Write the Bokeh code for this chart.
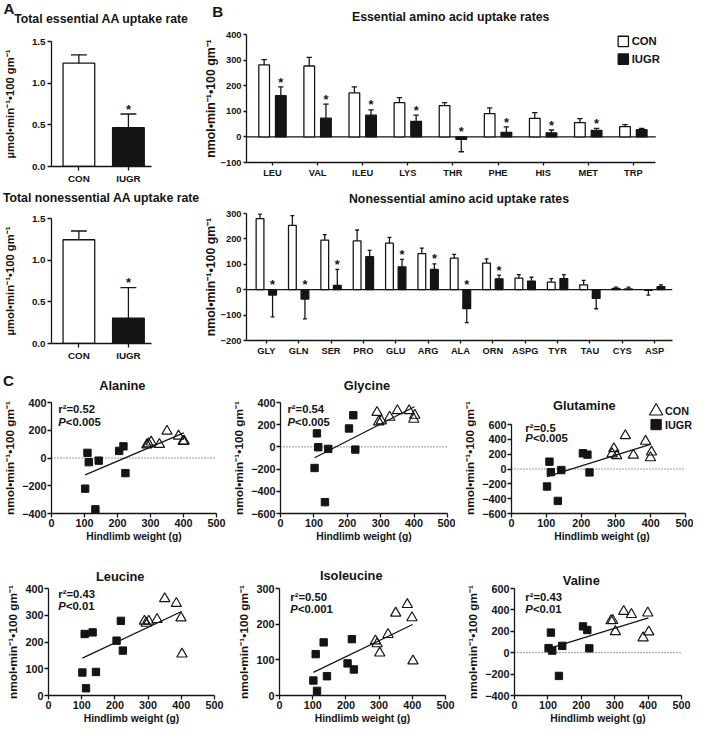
from bokeh.plotting import figure
from bokeh.models import Range1d, Label, FixedTicker, NumeralTickFormatter
from bokeh.layouts import row, column
from bokeh.embed import file_html
from bokeh.resources import INLINE
from bokeh.core.properties import value

# ---------------- data ----------------
groups = ["CON", "IUGR"]
ess_total = [1.24, 0.465]
ess_total_sem = [0.10, 0.165]
ness_total = [1.245, 0.305]
ness_total_sem = [0.105, 0.365]
total_sig = [0, 1]

ess_aa = ["LEU", "VAL", "ILEU", "LYS", "THR", "PHE", "HIS", "MET", "TRP"]
ess_con = [281, 277, 172, 134, 122, 91, 72, 56, 40]
ess_con_sem = [21, 34, 23, 19, 12, 22, 23, 15, 8]
ess_iugr = [161, 73, 85, 61, -10, 18, 16, 25, 28]
ess_iugr_sem = [34, 55, 21, 24, 48, 21, 11, 8, 5]
ess_sig = [1, 1, 1, 1, 1, 1, 1, 1, 0]

ness_aa = ["GLY", "GLN", "SER", "PRO", "GLU", "ARG", "ALA", "ORN", "ASPG", "TYR", "TAU", "CYS", "ASP"]
ness_con = [280, 253, 195, 192, 183, 142, 124, 105, 46, 30, 19, 5, -3]
ness_con_sem = [18, 39, 22, 43, 23, 22, 15, 16, 13, 14, 18, 5, 18]
ness_iugr = [-21, -37, 17, 130, 90, 80, -74, 43, 34, 44, -34, 3, 12]
ness_iugr_sem = [86, 78, 63, 25, 29, 22, 56, 14, 15, 15, 41, 7, 7]
ness_sig = [1, 1, 1, 0, 1, 1, 1, 1, 0, 0, 0, 0, 0]

iugr_wt = [102, 109, 113, 133, 143, 205, 218, 224]
con_wt = [289, 294, 302, 327, 350, 385, 399, 402]
fit_wt = [102, 401]

ala_iugr = [-221, 37, -30, -370, -19, 51, 84, -109]
ala_con = [95, 102, 115, 98, 193, 158, 120, 122]
ala_fit = [-121, 181]
gly_iugr = [-190, 122, -3, -498, -18, 166, 285, -24]
gly_con = [311, 226, 235, 267, 326, 326, 249, 285]
gly_fit = [-98, 362]
gln_iugr = [-236, 99, -42, -430, -14, 212, 194, -46]
gln_con = [205, 275, 180, 450, 187, 374, 152, 229]
gln_fit = [-102, 335]
leu_iugr = [86, 230, 27, 236, 88, 205, 279, 168]
leu_con = [278, 270, 278, 284, 362, 344, 290, 155]
leu_fit = [140, 314]
ile_iugr = [42, 116, 13, 149, 54, 90, 158, 73]
ile_con = [153, 145, 119, 171, 231, 255, 218, 97]
ile_fit = [65, 199]
val_iugr = [43, 188, 20, -217, 64, 246, 212, 41]
val_con = [299, 301, 197, 386, 357, 139, 371, 194]
val_fit = [38, 325]

c_titles = ["Alanine", "Glycine", "Glutamine", "Leucine", "Isoleucine", "Valine"]
c_r2 = ["0.52", "0.54", "0.5", "0.43", "0.50", "0.43"]
c_p = ["<0.005", "<0.005", "<0.005", "<0.01", "<0.001", "<0.01"]

# ---------------- style helpers ----------------
K = 0.982
FONT = "Liberation Sans"
INK = "#141414"
LW = 1.3 * K
NMOL = "nmol\u2022min\u207b\u00b9\u2022100 gm\u207b\u00b9"
UMOL = "\u00b5mol\u2022min\u207b\u00b9\u2022100 gm\u207b\u00b9"


def fs(v):
    return f"{v * K:.1f}px"


def make_fig(canvas, frame, xr, yr):
    cx0, cy0, cx1, cy1 = canvas
    fx0, fy0, fx1, fy1 = frame
    p = figure(width=round((cx1 - cx0) * K), height=round((cy1 - cy0) * K),
               x_range=Range1d(*xr), y_range=Range1d(*yr),
               min_border_left=round((fx0 - cx0) * K), min_border_right=round((cx1 - fx1) * K),
               min_border_top=round((fy0 - cy0) * K), min_border_bottom=round((cy1 - fy1) * K),
               output_backend="svg", toolbar_location=None, title=None,
               background_fill_color="white", border_fill_color="white")

    def conv(px, py):
        x = xr[0] + (px - fx0) / (fx1 - fx0) * (xr[1] - xr[0])
        y = yr[1] - (py - fy0) / (fy1 - fy0) * (yr[1] - yr[0])
        return x, y
    return p, conv


def style(p, tick_fs, lab_fs, tick_out=4, standoff=2):
    for ax in list(p.xaxis) + list(p.yaxis):
        ax.axis_line_width = LW
        ax.axis_line_color = INK
        ax.major_tick_line_width = LW
        ax.major_tick_line_color = INK
        ax.major_tick_out = tick_out
        ax.major_tick_in = 0
        ax.minor_tick_out = 0
        ax.minor_tick_in = 0
        ax.major_label_text_font = FONT
        ax.major_label_text_font_style = "bold"
        ax.major_label_text_font_size = fs(tick_fs)
        ax.major_label_text_color = INK
        ax.major_label_standoff = standoff
        ax.axis_label_text_font = FONT
        ax.axis_label_text_font_style = "bold"
        ax.axis_label_text_font_size = fs(lab_fs)
        ax.axis_label_text_color = INK
    p.xgrid.visible = False
    p.ygrid.visible = False
    p.outline_line_color = None


def put(p, conv, px, py, text, size, fstyle="bold", align="left", side=None):
    x, y = conv(px, py)
    lab = Label(x=x, y=y, text=text, text_font=FONT, text_font_style=fstyle,
                text_font_size=fs(size), text_color=INK, text_align=align,
                text_baseline="middle")
    if side:
        p.add_layout(lab, side)
    else:
        p.add_layout(lab)


def bars(p, xs, means, sems, width, fill):
    tips = [m + s if m >= 0 else m - s for m, s in zip(means, sems)]
    r = p.vbar(x=xs, top=means, width=width, fill_color=fill, line_color=INK, line_width=LW)
    p.segment(x0=xs, y0=means, x1=xs, y1=tips, line_color=INK, line_width=LW)
    cw = width / 2
    p.segment(x0=[x - cw / 2 for x in xs], y0=tips, x1=[x + cw / 2 for x in xs], y1=tips,
              line_color=INK, line_width=LW)
    return r, tips


def stars(p, xs, tips, sig):
    sx = [x for x, s in zip(xs, sig) if s]
    sy = [max(t, 0) for t, s in zip(tips, sig) if s]
    p.text(x=sx, y=sy, text=["*"] * len(sx), text_font=value(FONT), text_font_style="bold",
           text_font_size=fs(13), text_color=INK, text_align="center",
           text_baseline="alphabetic", y_offset=-5 * K)


Y0 = 1

# ---------------- Panel A ----------------
def total_panel(canvas, frame, vals, sems, title, title_py, letter):
    p, conv = make_fig(canvas, frame, (-0.553, 1.466), (0, 1.5))
    xs = [0, 1]
    bars(p, [xs[0]], [vals[0]], [sems[0]], 0.64, "white")
    _, tips = bars(p, [xs[1]], [vals[1]], [sems[1]], 0.64, INK)
    stars(p, [xs[1]], tips, [total_sig[1]])
    p.xaxis.ticker = FixedTicker(ticks=xs)
    p.xaxis.major_label_overrides = {0: groups[0], 1: groups[1]}
    p.yaxis.ticker = FixedTicker(ticks=[0, 0.5, 1.0, 1.5])
    p.yaxis.formatter = NumeralTickFormatter(format="0.0")
    p.yaxis.axis_label = UMOL
    style(p, 10, 11.5, tick_out=4, standoff=2)
    p.yaxis.axis_label_standoff = 13
    put(p, conv, 105, title_py, title, 12.5, align="center", side="above")
    if letter:
        put(p, conv, 3, 8.5, letter, 15.5, side="above")
    return p


pA1 = total_panel((3, Y0, 207, 190), (53, 43, 157, 172), ess_total, ess_total_sem,
                  "Total essential AA uptake rate", 19.5, "A")
pA2 = total_panel((3, 190, 207, 370), (53, 223, 157, 351), ness_total, ness_total_sem,
                  "Total nonessential AA uptake rate", 201.5, None)


# ---------------- Panel B ----------------
def aa_panel(canvas, frame, xr, xend, names, con, con_sem, iu, iu_sem, sig, off, width,
             yr, yticks, title, title_py, letter, legend):
    p, conv = make_fig(canvas, frame, xr, yr)
    n = len(names)
    xc = [i - off for i in range(n)]
    xi = [i + off for i in range(n)]
    p.segment(x0=[xr[0]], y0=[0], x1=[xend], y1=[0], line_color=INK, line_width=LW)
    bars(p, xc, con, con_sem, width, "white")
    _, tips = bars(p, xi, iu, iu_sem, width, INK)
    stars(p, xi, tips, sig)
    p.xaxis.ticker = FixedTicker(ticks=list(range(n)))
    p.xaxis.major_label_overrides = {i: nm for i, nm in enumerate(names)}
    p.xaxis.bounds = (xr[0], xend)
    p.yaxis.ticker = FixedTicker(ticks=yticks)
    p.yaxis.axis_label = NMOL
    style(p, 9.5, 12.5, tick_out=3, standoff=2)
    p.yaxis.axis_label_standoff = 0
    put(p, conv, 467, title_py, title, 12.5, align="center", side="above")
    if letter:
        put(p, conv, 210, 12.5, letter, 15.5, side="above")
    if legend:
        for (py, fill, name) in [(43, "white", groups[0]), (61, INK, groups[1])]:
            gx, gy = conv(653, py)
            p.scatter([gx], [gy], marker="square", size=10.5 * K, fill_color=fill,
                      line_color=INK, line_width=LW)
            put(p, conv, 662, py, name, 11.5)
    return p


# B-top: frame extended to the right (legend room); axis line bounded at category end
pB1 = aa_panel((207, Y0, 708, 190), (247, 36, 706, 166), (-0.576, 8.868), 8.498, ess_aa,
               ess_con, ess_con_sem, ess_iugr, ess_iugr_sem, ess_sig, 0.185, 0.237,
               (-100, 400), [-100, 0, 100, 200, 300, 400],
               "Essential amino acid uptake rates", 18.5, "B", True)
pB2 = aa_panel((207, 190, 708, 370), (247, 217, 688, 347), (-0.612, 12.552), 12.552, ness_aa,
               ness_con, ness_con_sem, ness_iugr, ness_iugr_sem, ness_sig, 0.194, 0.24,
               (-200, 300), [-200, -100, 0, 100, 200, 300],
               "Nonessential amino acid uptake rates", 202, None, False)


# ---------------- Panel C ----------------
def scatter_panel(canvas, frame, xr, yr, yticks, iu_y, con_y, fit_y, k, title_pos, stat_pos,
                  zero, letter=None, legend=False):
    p, conv = make_fig(canvas, frame, xr, yr)
    if zero:
        p.segment(x0=[0], y0=[0], x1=[500], y1=[0], line_color="#333333",
                  line_width=1.0 * K, line_dash="1 2")
    p.line(fit_wt, fit_y, line_color=INK, line_width=1.3 * K)
    p.scatter(iugr_wt, iu_y, marker="square", size=7.5 * K, fill_color=INK, line_color=INK)
    p.scatter(con_wt, con_y, marker="triangle", size=10.5 * K, fill_color=None,
              line_color=INK, line_width=1.2 * K)
    p.xaxis.ticker = FixedTicker(ticks=[0, 100, 200, 300, 400, 500])
    p.yaxis.ticker = FixedTicker(ticks=yticks)
    p.yaxis.bounds = (yticks[0], yticks[-1])
    p.xaxis.bounds = (0, 500)
    p.xaxis.axis_label = "Hindlimb weight (g)"
    p.yaxis.axis_label = NMOL
    style(p, 11, 10.5, tick_out=4, standoff=1)
    p.yaxis.axis_label_text_font_size = fs(12)
    p.xaxis.axis_label_standoff = 1
    p.yaxis.axis_label_standoff = 2
    put(p, conv, title_pos[0], title_pos[1], c_titles[k], 13, align="center", side="above")
    sx, sy = stat_pos
    put(p, conv, sx, sy, "r\u00b2=" + c_r2[k], 11.5)
    put(p, conv, sx, sy + 12.5, "P", 11.5, fstyle="bold italic")
    put(p, conv, sx + 7.8, sy + 12.5, c_p[k], 11.5)
    if letter:
        put(p, conv, 3, 388, letter, 15.5, side="above")
    if legend:
        lx1, ly1 = conv(670, 400)
        lx2, ly2 = conv(670, 417)
        p.scatter([lx1], [ly1], marker="triangle", size=13.5 * K, fill_color=None,
                  line_color=INK, line_width=1.2 * K)
        p.scatter([lx2], [ly2], marker="square", size=10.5 * K, fill_color=INK, line_color=INK)
        put(p, conv, 679, 400, groups[0], 11)
        put(p, conv, 679, 417, groups[1], 11)
    return p


pC1 = scatter_panel((3, 370, 236, 566), (53, 410, 223, 523), (0, 500), (-400, 400),
                    [-400, -200, 0, 200, 400], ala_iugr, ala_con, ala_fit, 0,
                    (126, 393), (60, 417), True, letter="C")
pC2 = scatter_panel((236, 370, 466, 566), (288, 410, 458, 523), (0, 500), (-600, 400),
                    [-600, -400, -200, 0, 200, 400], gly_iugr, gly_con, gly_fit, 1,
                    (376, 393), (295, 417), True)
# Glutamine: frame extended up/right to hold the legend; axes bounded to the data ranges
gln_x1 = 500 * (707 - 523) / (700 - 523)
gln_y1 = 600 + (417 - 389) / (530 - 417) * 1200
pC3 = scatter_panel((466, 370, 708, 566), (523, 389, 707, 530), (0, gln_x1), (-600, gln_y1),
                    [-600, -400, -200, 0, 200, 400, 600], gln_iugr, gln_con, gln_fit, 2,
                    (597, 393), (537, 422), True, legend=True)
pC4 = scatter_panel((3, 566, 236, 742), (52, 597, 221, 709), (0, 500), (0, 400),
                    [0, 100, 200, 300, 400], leu_iugr, leu_con, leu_fit, 3,
                    (125, 584.5), (62, 603), False)
pC5 = scatter_panel((236, 566, 466, 742), (287, 600, 456, 711), (0, 500), (0, 300),
                    [0, 100, 200, 300], ile_iugr, ile_con, ile_fit, 4,
                    (360, 587), (298, 609), False)
pC6 = scatter_panel((466, 566, 708, 742), (526, 593, 696, 708), (0, 500), (-400, 600),
                    [-400, -200, 0, 200, 400, 600], val_iugr, val_con, val_fit, 5,
                    (594, 584), (537, 602), True)

layout = column(
    row(column(pA1, pA2, spacing=0), column(pB1, pB2, spacing=0), spacing=0),
    row(pC1, pC2, pC3, spacing=0),
    row(pC4, pC5, pC6, spacing=0),
    spacing=0,
)

with open("out.html", "w") as f:
    f.write(file_html(layout, INLINE, "Amino acid uptake"))
